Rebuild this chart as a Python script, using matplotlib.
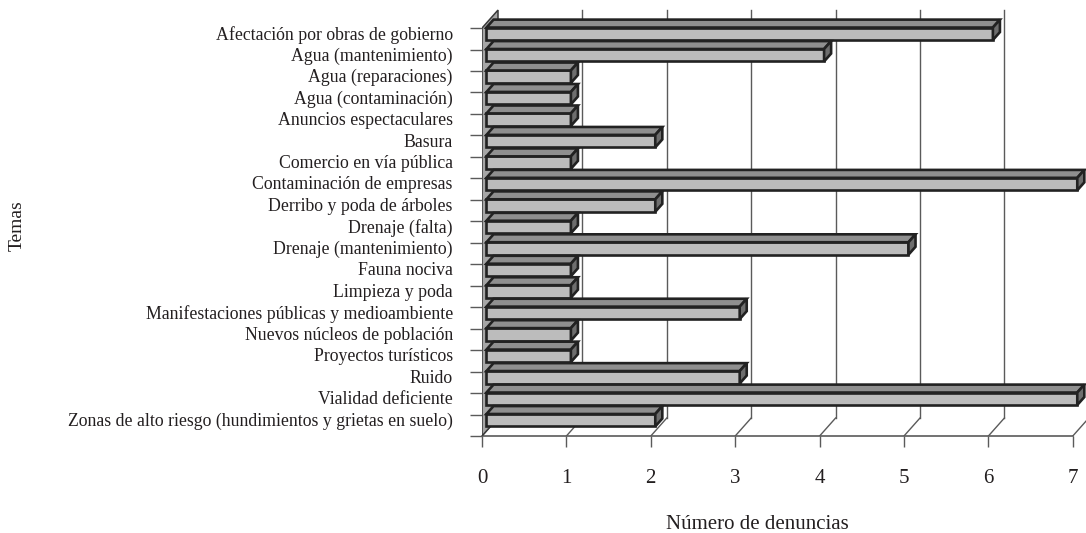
import numpy as np
import matplotlib
matplotlib.use('Agg')
import matplotlib.pyplot as plt
from matplotlib.patches import Polygon

# data
temas = ['Afectación por obras de gobierno', 'Agua (mantenimiento)', 'Agua (reparaciones)',
         'Agua (contaminación)', 'Anuncios espectaculares', 'Basura', 'Comercio en vía pública',
         'Contaminación de empresas', 'Derribo y poda de árboles', 'Drenaje (falta)',
         'Drenaje (mantenimiento)', 'Fauna nociva', 'Limpieza y poda',
         'Manifestaciones públicas y medioambiente', 'Nuevos núcleos de población',
         'Proyectos turísticos', 'Ruido', 'Vialidad deficiente',
         'Zonas de alto riesgo (hundimientos y grietas en suelo)']
denuncias = [6, 4, 1, 1, 1, 2, 1, 7, 2, 1, 5, 1, 1, 3, 1, 1, 3, 7, 2]
x_ticks = [0, 1, 2, 3, 4, 5, 6, 7]

plt.rcParams['font.family'] = ['Liberation Serif', 'DejaVu Serif']

W, H = 1086, 533
PX_X, PX_Y = 84.4, 21.47          # pixels per unit on the front plane
DX, DY = 16 / PX_X, 18 / PX_Y     # full depth of the 3d box, data units
D0, D1 = 0.28, 0.72               # depth range taken by the bars
BAR_LO, BAR_H = 0.21, 0.58

FRONT = '#bcbcbc'
TOP = '#8f8f8f'
SIDE = '#6e6e6e'
EDGE = '#222222'
GRID = '#5a5a5a'
TXT = '#231f20'

n = len(temas)
ypos = np.arange(n)[::-1]   # category 0 at the top

fig = plt.figure(figsize=(W / 100, H / 100), dpi=100)
ax = fig.add_axes([482 / W, (H - 436) / H, (W - 482) / W, 436 / H])
ax.set_xlim(0, (W - 482) / PX_X)
ax.set_ylim(0, 436 / PX_Y)
for s in ax.spines.values():
    s.set_visible(False)

# back wall gridlines and floor diagonals
for v in x_ticks:
    if v > 0:
        ax.plot([v + DX, v + DX], [DY, n + DY], color=GRID, lw=1, zorder=1)
    ax.plot([v, v + DX], [0, DY], color=GRID, lw=1, zorder=1)
ax.plot([0, max(x_ticks)], [0, 0], color=GRID, lw=1.2, zorder=1, clip_on=False)

# left wall
wall = Polygon([(0, 0), (0, n), (DX, n + DY), (DX, DY)], closed=True,
               facecolor='#a6a6a6', edgecolor='#3a3a3a', lw=1.1, zorder=2)
ax.add_patch(wall)

# bars: front face with barh, top and end faces as polygons
x0 = D0 * DX
dd_x, dd_y = (D1 - D0) * DX, (D1 - D0) * DY
yb = ypos + BAR_LO + D0 * DY
ax.barh(yb + BAR_H / 2, denuncias, height=BAR_H, left=x0, color=FRONT,
        edgecolor=EDGE, linewidth=1.9, zorder=3)
for v, b in zip(denuncias, yb):
    t = b + BAR_H
    top = Polygon([(x0, t), (x0 + v, t), (x0 + v + dd_x, t + dd_y), (x0 + dd_x, t + dd_y)],
                  closed=True, facecolor=TOP, edgecolor=EDGE, lw=1.9, zorder=3, joinstyle='miter')
    end = Polygon([(x0 + v, b), (x0 + v, t), (x0 + v + dd_x, t + dd_y), (x0 + v + dd_x, b + dd_y)],
                  closed=True, facecolor=SIDE, edgecolor=EDGE, lw=1.9, zorder=3, joinstyle='miter')
    ax.add_patch(top)
    ax.add_patch(end)

# y axis: tick marks on category boundaries, labels on bar centres
ax.set_yticks(np.arange(n + 1))
ax.set_yticklabels([])
ax.yaxis.set_ticks(yb + BAR_H / 2 + 0.05, labels=temas, minor=True)
ax.tick_params(axis='y', which='major', length=8.6, width=1, color=GRID, direction='out')
ax.tick_params(axis='y', which='minor', length=0, pad=21, labelsize=12.8, labelcolor=TXT)

ax.set_xticks(x_ticks)
ax.tick_params(axis='x', which='major', length=7.9, width=1, color=GRID, direction='out',
               pad=16, labelsize=15, labelcolor=TXT)

ax.set_xlabel('Número de denuncias', fontsize=15, color=TXT)
ax.xaxis.set_label_coords((757 - 482) / (W - 482), -(515 - 436) / 436)
ax.set_ylabel('Temas', fontsize=14, color=TXT, va='center')
ax.yaxis.set_label_coords((17 - 482) / (W - 482), (436 - 226) / 436)

fig.savefig('out.png', dpi=100)
